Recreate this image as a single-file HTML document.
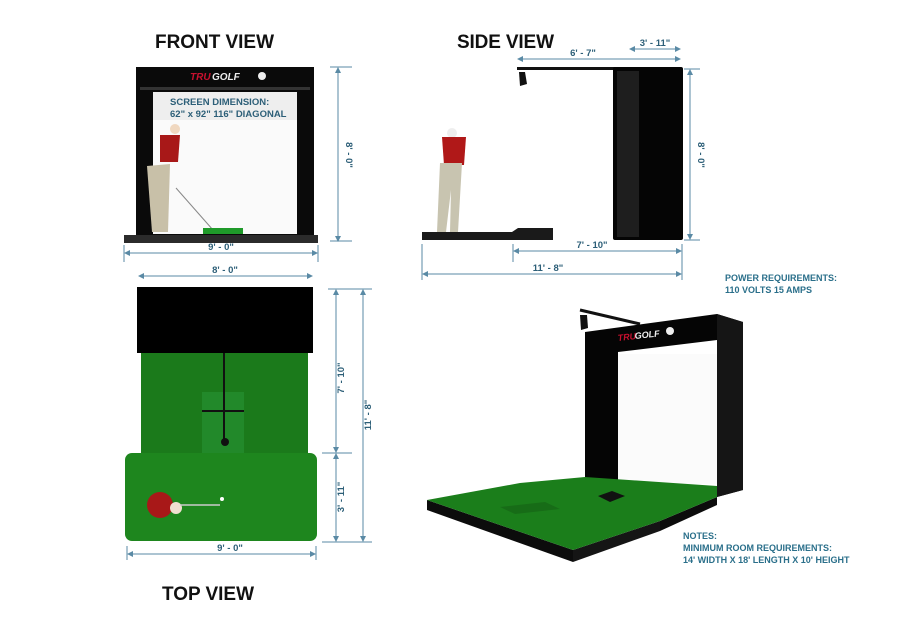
<!DOCTYPE html>
<html><head><meta charset="utf-8"><style>
html,body{margin:0;padding:0;background:#fff;}
svg{display:block;}
text{font-family:"Liberation Sans",sans-serif;}
.t{font-weight:bold;font-size:19px;fill:#111;}
.d{font-size:9.5px;fill:#2d5f78;font-weight:bold;}
.n{font-size:9px;fill:#2a6f8a;font-weight:bold;}
.l{stroke:#5a8aa5;stroke-width:1;fill:none;}
</style></head><body>
<svg width="900" height="630" viewBox="0 0 900 630" xmlns="http://www.w3.org/2000/svg">
<defs>
<marker id="a" markerWidth="6" markerHeight="6" refX="5" refY="3" orient="auto-start-reverse"><path d="M0,0 L6,3 L0,6z" fill="#5a8aa5"/></marker>
</defs>
<text x="155" y="48" class="t" textLength="119">FRONT VIEW</text>
<text x="457" y="48" class="t" textLength="97">SIDE VIEW</text>
<text x="162" y="600" class="t" textLength="92">TOP VIEW</text>

<!-- FRONT VIEW -->
<rect x="136" y="67" width="178" height="170" fill="#0a0a0a"/>
<rect x="140" y="87" width="170" height="3" fill="#333"/>
<rect x="153" y="92" width="144" height="142" fill="#fafafa"/>
<rect x="153" y="92" width="144" height="28" fill="#eeeeee"/>
<text x="190" y="80" font-size="10" font-style="italic" font-weight="bold" fill="#c8102e">TRU</text>
<text x="212" y="80" font-size="10" font-style="italic" font-weight="bold" fill="#eee">GOLF</text>
<circle cx="262" cy="76" r="4" fill="#eee"/>
<text x="170" y="105" class="d">SCREEN DIMENSION:</text>
<text x="170" y="117" class="d">62" x 92"  116" DIAGONAL</text>
<circle cx="175" cy="129" r="5" fill="#f0d8c0"/>
<path d="M160,135 L180,135 L178,162 L160,162z" fill="#a81818"/>
<path d="M147,166 L170,164 L168,232 L152,232z" fill="#c8c0a8"/>
<line x1="176" y1="188" x2="213" y2="230" stroke="#888" stroke-width="1"/>
<rect x="203" y="228" width="40" height="6" fill="#1f9a2a"/>
<rect x="124" y="235" width="194" height="8" fill="#2b2b2b"/>
<line x1="338" y1="68" x2="338" y2="241" class="l" marker-start="url(#a)" marker-end="url(#a)"/>
<line x1="330" y1="67" x2="352" y2="67" class="l"/><line x1="330" y1="241" x2="352" y2="241" class="l"/>
<text x="0" y="0" class="d" transform="translate(346,155) rotate(90)" text-anchor="middle">8' - 0"</text>
<line x1="125" y1="253" x2="317" y2="253" class="l" marker-start="url(#a)" marker-end="url(#a)"/>
<line x1="124" y1="245" x2="124" y2="262" class="l"/><line x1="318" y1="245" x2="318" y2="262" class="l"/>
<text x="221" y="250" class="d" text-anchor="middle">9' - 0"</text>

<!-- TOP VIEW -->
<line x1="139" y1="276" x2="312" y2="276" class="l" marker-start="url(#a)" marker-end="url(#a)"/>
<text x="225" y="273" class="d" text-anchor="middle">8' - 0"</text>
<rect x="137" y="287" width="176" height="66" fill="#000"/>
<rect x="141" y="353" width="167" height="100" fill="#1b7a1b"/>
<rect x="202" y="392" width="42" height="61" fill="#22892a"/>
<line x1="224" y1="353" x2="224" y2="442" stroke="#111" stroke-width="2"/>
<line x1="202" y1="411" x2="244" y2="411" stroke="#111" stroke-width="2"/>
<circle cx="225" cy="442" r="4" fill="#111"/>
<rect x="125" y="453" width="192" height="88" rx="7" fill="#1e861e"/>
<circle cx="160" cy="505" r="13" fill="#a81818"/>
<circle cx="176" cy="508" r="6" fill="#f0e0d0"/>
<line x1="180" y1="505" x2="220" y2="505" stroke="#ccc" stroke-width="1.5"/>
<circle cx="222" cy="499" r="2" fill="#fff"/>
<line x1="336" y1="290" x2="336" y2="452" class="l" marker-start="url(#a)" marker-end="url(#a)"/>
<line x1="336" y1="454" x2="336" y2="541" class="l" marker-start="url(#a)" marker-end="url(#a)"/>
<line x1="363" y1="290" x2="363" y2="541" class="l" marker-start="url(#a)" marker-end="url(#a)"/>
<line x1="328" y1="289" x2="372" y2="289" class="l"/><line x1="322" y1="453" x2="352" y2="453" class="l"/><line x1="322" y1="542" x2="372" y2="542" class="l"/>
<text class="d" text-anchor="middle" transform="translate(344,378) rotate(-90)">7' - 10"</text>
<text class="d" text-anchor="middle" transform="translate(344,497) rotate(-90)">3' - 11"</text>
<text class="d" text-anchor="middle" transform="translate(371,415) rotate(-90)">11' - 8"</text>
<line x1="128" y1="554" x2="315" y2="554" class="l" marker-start="url(#a)" marker-end="url(#a)"/>
<line x1="127" y1="546" x2="127" y2="560" class="l"/><line x1="316" y1="546" x2="316" y2="560" class="l"/>
<text x="230" y="551" class="d" text-anchor="middle">9' - 0"</text>

<!-- SIDE VIEW -->
<line x1="630" y1="49" x2="680" y2="49" class="l" marker-start="url(#a)" marker-end="url(#a)"/>
<text x="655" y="46" class="d" text-anchor="middle">3' - 11"</text>
<line x1="518" y1="59" x2="680" y2="59" class="l" marker-start="url(#a)" marker-end="url(#a)"/>
<text x="583" y="56" class="d" text-anchor="middle">6' - 7"</text>
<rect x="517" y="67" width="100" height="3" fill="#111"/>
<path d="M519,72 L525,72 L527,84 L520,86z" fill="#111"/>
<rect x="613" y="67" width="70" height="173" rx="2" fill="#050505"/>
<rect x="617" y="71" width="22" height="166" fill="#1e1e1e"/>
<line x1="690" y1="70" x2="690" y2="239" class="l" marker-start="url(#a)" marker-end="url(#a)"/>
<line x1="684" y1="69" x2="700" y2="69" class="l"/><line x1="684" y1="240" x2="700" y2="240" class="l"/>
<text class="d" text-anchor="middle" transform="translate(698,155) rotate(90)">8' - 0"</text>
<circle cx="452" cy="133" r="5" fill="#eee"/>
<path d="M442,137 L466,137 L464,165 L444,165z" fill="#b01818"/>
<path d="M440,163 L462,163 L458,232 L450,232 L451,190 L446,232 L437,232z" fill="#c8c4b0"/>
<rect x="422" y="232" width="92" height="8" fill="#1a1a1a"/>
<path d="M512,240 L512,232 L518,228 L553,228 L553,240z" fill="#1a1a1a"/>
<line x1="514" y1="251" x2="681" y2="251" class="l" marker-start="url(#a)" marker-end="url(#a)"/>
<line x1="513" y1="244" x2="513" y2="262" class="l"/>
<text x="592" y="248" class="d" text-anchor="middle">7' - 10"</text>
<line x1="423" y1="274" x2="681" y2="274" class="l" marker-start="url(#a)" marker-end="url(#a)"/>
<line x1="422" y1="244" x2="422" y2="280" class="l"/><line x1="682" y1="244" x2="682" y2="280" class="l"/>
<text x="548" y="271" class="d" text-anchor="middle">11' - 8"</text>

<text x="725" y="281" class="n">POWER REQUIREMENTS:</text>
<text x="725" y="293" class="n">110 VOLTS  15 AMPS</text>

<!-- 3D VIEW -->
<line x1="580" y1="310" x2="640" y2="324" stroke="#111" stroke-width="3"/>
<path d="M580,315 L587,315 L588,328 L581,330z" fill="#111"/>
<path d="M585,332 L717,314 L743,322 L743,490 L717,497 L717,340 L618,352 L618,480 L585,480z" fill="#050505"/>
<path d="M717,314 L743,322 L743,490 L717,497z" fill="#151515"/>
<rect x="618" y="354" width="99" height="130" fill="#fbfbfb"/>
<text x="618" y="341" font-size="9" font-style="italic" font-weight="bold" fill="#c8102e" transform="rotate(-6 618 341)">TRU</text>
<text x="635" y="339" font-size="9" font-style="italic" font-weight="bold" fill="#eee" transform="rotate(-6 635 339)">GOLF</text>
<circle cx="670" cy="331" r="4" fill="#eee"/>
<path d="M427,500 L573,550 L573,562 L427,510z" fill="#0c0c0c"/>
<path d="M573,550 L660,521 L660,531 L573,562z" fill="#151515"/>
<path d="M660,521 L717,497 L717,505 L660,531z" fill="#0c0c0c"/>
<path d="M427,500 L520,483 L585,477 L717,486 L717,497 L660,521 L573,550z" fill="#1b7e1b"/>
<path d="M598,496 L612,491 L625,496 L610,502z" fill="#111"/>
<path d="M500,507 L545,502 L560,509 L515,514z" fill="#176c17"/>

<text x="683" y="539" class="n">NOTES:</text>
<text x="683" y="551" class="n">MINIMUM ROOM REQUIREMENTS:</text>
<text x="683" y="563" class="n">14' WIDTH X 18' LENGTH X 10' HEIGHT</text>
</svg>
</body></html>
